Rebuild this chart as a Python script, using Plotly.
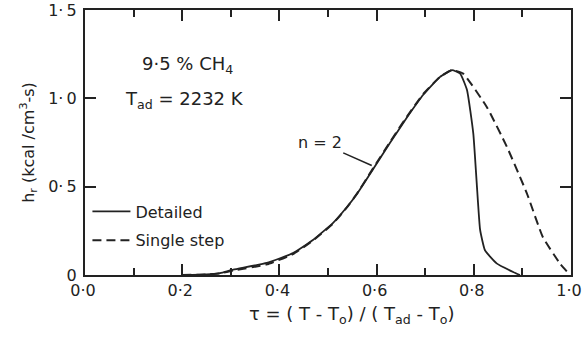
import plotly.graph_objects as go

# Data
tau_detailed = [0.20, 0.25, 0.278, 0.305, 0.374, 0.428, 0.469, 0.51, 0.539, 0.56, 0.593, 0.628,
                0.662, 0.696, 0.73, 0.755, 0.772, 0.786, 0.799, 0.806, 0.813, 0.823, 0.847, 0.881, 0.895]
hr_detailed = [0.0, 0.004, 0.011, 0.03, 0.068, 0.124, 0.198, 0.294, 0.385, 0.46, 0.60, 0.75,
               0.89, 1.02, 1.12, 1.16, 1.14, 1.047, 0.80, 0.52, 0.255, 0.14, 0.066, 0.017, 0.0]

tau_single = [0.20, 0.25, 0.278, 0.305, 0.374, 0.428, 0.469, 0.51, 0.539, 0.56, 0.593, 0.628,
              0.662, 0.696, 0.73, 0.755, 0.778, 0.827, 0.868, 0.909, 0.942, 0.977, 0.998]
hr_single = [0.0, 0.003, 0.009, 0.025, 0.06, 0.118, 0.195, 0.29, 0.383, 0.462, 0.605, 0.755,
             0.895, 1.025, 1.12, 1.16, 1.14, 0.95, 0.726, 0.464, 0.215, 0.066, 0.0]

x_tickvals = [0.0, 0.2, 0.4, 0.6, 0.8, 1.0]
x_ticktext = ["0·0", "0·2", "0·4", "0·6", "0·8", "1·0"]
y_tickvals = [0.0, 0.5, 1.0, 1.5]
y_ticktext = ["0", "0·\u20095", "1·\u20090", "1·\u20095"]

FONT = "DejaVu Sans"
INK = "#222222"

fig = go.Figure()
fig.add_trace(go.Scatter(x=tau_detailed, y=hr_detailed, mode="lines", name="Detailed",
                         line=dict(color=INK, width=1.8, shape="spline", smoothing=0.4),
                         legendgroup="a"))
fig.add_trace(go.Scatter(x=tau_single, y=hr_single, mode="lines", name="Single step",
                         line=dict(color=INK, width=2, dash="9px,5px", shape="spline", smoothing=0.4),
                         legendgroup="b"))

fig.update_layout(
    width=582, height=338,
    margin=dict(l=85, r=11, t=10, b=63, autoexpand=False),
    paper_bgcolor="white", plot_bgcolor="white",
    font=dict(family=FONT, size=16, color=INK),
    showlegend=True,
    legend=dict(x=0.005, y=0.304, xanchor="left", yanchor="top", itemwidth=38,
                bgcolor="rgba(0,0,0,0)", font=dict(size=16, family=FONT, color=INK),
                tracegroupgap=5),
    xaxis=dict(range=[0, 1.0], tickvals=x_tickvals, ticktext=x_ticktext, automargin=False,
               ticks="inside", ticklen=11, tickwidth=1.5, tickcolor=INK,
               ticklabeloverflow="allow", ticklabelshift=-2,
               minor=dict(dtick=0.1, ticks="inside", ticklen=7, tickwidth=1.5, tickcolor=INK),
               showline=True, linewidth=2, linecolor=INK, mirror="ticks",
               showgrid=False, zeroline=False,
               tickfont=dict(size=16, family=FONT, color=INK)),
    yaxis=dict(range=[0, 1.5], tickvals=y_tickvals, ticktext=y_ticktext, automargin=False,
               ticks="inside", ticklen=11, tickwidth=1.5, tickcolor=INK, ticklabelstandoff=3,
               ticklabeloverflow="allow",
               showline=True, linewidth=2, linecolor=INK, mirror="ticks",
               showgrid=False, zeroline=False,
               tickfont=dict(size=16, family=FONT, color=INK),
               title=dict(text="h<sub>r</sub> (kcal /cm<sup>3</sup>-s)", standoff=10,
                          font=dict(size=16, family=FONT, color=INK))),
)

fig.add_annotation(text="τ = ( T - T<sub>o</sub>) / ( T<sub>ad</sub> - T<sub>o</sub>)",
                   xref="paper", yref="paper", x=0.549, y=-0.15, showarrow=False,
                   xanchor="center", yanchor="middle", font=dict(size=18, family=FONT, color=INK))
fig.add_annotation(text="9·5 % CH<sub>4</sub>", xref="paper", yref="paper", x=0.21, y=0.792,
                   showarrow=False, xanchor="center", yanchor="middle",
                   font=dict(size=18, family=FONT, color=INK))
fig.add_annotation(text="T<sub>ad</sub> = 2232 K", xref="paper", yref="paper", x=0.204, y=0.66,
                   showarrow=False, xanchor="center", yanchor="middle",
                   font=dict(size=18, family=FONT, color=INK))
fig.add_annotation(text="n = 2", x=0.59, y=0.62, xref="x", yref="y",
                   showarrow=True, arrowhead=0, arrowwidth=1.5, arrowcolor=INK,
                   ax=-52, ay=-23, font=dict(size=16, family=FONT, color=INK))

# remove the default page margin so the figure sits at the window's top-left corner
fig.write_html("out.html",
               config={"displayModeBar": False},
               post_script="document.body.style.margin='0px';"
                           "document.body.style.overflow='hidden';")
